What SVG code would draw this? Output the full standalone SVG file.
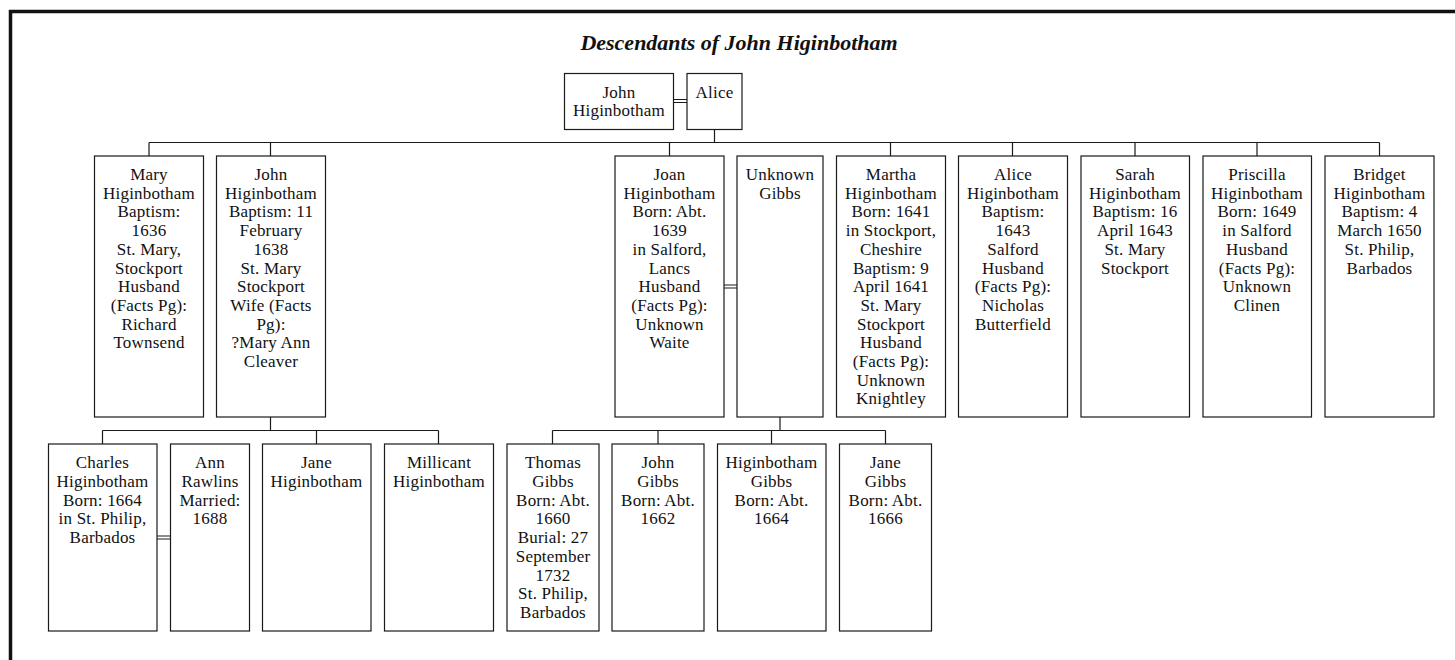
<svg xmlns="http://www.w3.org/2000/svg" width="1455" height="660" viewBox="0 0 1455 660">
  <style>
    .box { fill: #ffffff; stroke: #1a1a1a; stroke-width: 1.2; }
    .lbl { font-family: "Liberation Serif", "Times New Roman", serif; font-size: 17px; letter-spacing: 0.2px; fill: #111111; text-anchor: middle; }
    .title { font-family: "Liberation Serif", "Times New Roman", serif; font-size: 22px; font-weight: bold; font-style: italic; fill: #111111; text-anchor: middle; }
    .link { fill: none; stroke: #1a1a1a; stroke-width: 1.2; }
    .frame { fill: none; stroke: #111111; stroke-width: 3.5; }
  </style>
  <rect width="1455" height="660" fill="#ffffff"/>
  <!-- page frame (top and left edges) -->
  <path class="frame" d="M10.5,665 V11.5 H1460"/>
  <text class="title" x="739" y="50">Descendants of John Higinbotham</text>

  <!-- connectors -->
  <g id="connectors">
    <!-- marriages -->
    <path class="link" d="M673,99.5 H687 M673,102.5 H687"/>
    <path class="link" d="M724,285 H737 M724,288 H737"/>
    <path class="link" d="M157,536 H170 M157,539 H170"/>
    <!-- generation 1 to 2 -->
    <path class="link" d="M714.5,129 V142.5 M149,142.5 H1379.5 M149,142.5 V156 M270.5,142.5 V156 M669.5,142.5 V156 M890.5,142.5 V156 M1012.5,142.5 V156 M1135,142.5 V156 M1257,142.5 V156 M1379.5,142.5 V156"/>
    <!-- John's children -->
    <path class="link" d="M270.5,417 V430.5 M102.5,430.5 H438.5 M102.5,430.5 V444 M316.5,430.5 V444 M438.5,430.5 V444"/>
    <!-- Gibbs children -->
    <path class="link" d="M780,417 V430.5 M552.5,430.5 H885.5 M552.5,430.5 V444 M658,430.5 V444 M771.5,430.5 V444 M885.5,430.5 V444"/>
  </g>

  <!-- generation 1 -->
  <g id="john-higinbotham">
    <rect class="box" x="564.5" y="73.5" width="109" height="56"/>
    <text class="lbl" x="619" y="97.5"><tspan x="619">John</tspan><tspan x="619" dy="18.7">Higinbotham</tspan></text>
  </g>
  <g id="alice">
    <rect class="box" x="687" y="73.5" width="55" height="56"/>
    <text class="lbl" x="714.5" y="97.5">Alice</text>
  </g>

  <!-- generation 2 -->
  <g id="mary-higinbotham">
    <rect class="box" x="94.5" y="156" width="109" height="261"/>
    <text class="lbl" y="180"><tspan x="149">Mary</tspan><tspan x="149" dy="18.7">Higinbotham</tspan><tspan x="149" dy="18.7">Baptism:</tspan><tspan x="149" dy="18.7">1636</tspan><tspan x="149" dy="18.7">St. Mary,</tspan><tspan x="149" dy="18.7">Stockport</tspan><tspan x="149" dy="18.7">Husband</tspan><tspan x="149" dy="18.7">(Facts Pg):</tspan><tspan x="149" dy="18.7">Richard</tspan><tspan x="149" dy="18.7">Townsend</tspan></text>
  </g>
  <g id="john-higinbotham-jr">
    <rect class="box" x="216.5" y="156" width="109" height="261"/>
    <text class="lbl" y="180"><tspan x="271">John</tspan><tspan x="271" dy="18.7">Higinbotham</tspan><tspan x="271" dy="18.7">Baptism: 11</tspan><tspan x="271" dy="18.7">February</tspan><tspan x="271" dy="18.7">1638</tspan><tspan x="271" dy="18.7">St. Mary</tspan><tspan x="271" dy="18.7">Stockport</tspan><tspan x="271" dy="18.7">Wife (Facts</tspan><tspan x="271" dy="18.7">Pg):</tspan><tspan x="271" dy="18.7">?Mary Ann</tspan><tspan x="271" dy="18.7">Cleaver</tspan></text>
  </g>
  <g id="joan-higinbotham">
    <rect class="box" x="615" y="156" width="109" height="261"/>
    <text class="lbl" y="180"><tspan x="669.5">Joan</tspan><tspan x="669.5" dy="18.7">Higinbotham</tspan><tspan x="669.5" dy="18.7">Born: Abt.</tspan><tspan x="669.5" dy="18.7">1639</tspan><tspan x="669.5" dy="18.7">in Salford,</tspan><tspan x="669.5" dy="18.7">Lancs</tspan><tspan x="669.5" dy="18.7">Husband</tspan><tspan x="669.5" dy="18.7">(Facts Pg):</tspan><tspan x="669.5" dy="18.7">Unknown</tspan><tspan x="669.5" dy="18.7">Waite</tspan></text>
  </g>
  <g id="unknown-gibbs">
    <rect class="box" x="737" y="156" width="86" height="261"/>
    <text class="lbl" y="180"><tspan x="780">Unknown</tspan><tspan x="780" dy="18.7">Gibbs</tspan></text>
  </g>
  <g id="martha-higinbotham">
    <rect class="box" x="836.5" y="156" width="109" height="261"/>
    <text class="lbl" y="180"><tspan x="891">Martha</tspan><tspan x="891" dy="18.7">Higinbotham</tspan><tspan x="891" dy="18.7">Born: 1641</tspan><tspan x="891" dy="18.7">in Stockport,</tspan><tspan x="891" dy="18.7">Cheshire</tspan><tspan x="891" dy="18.7">Baptism: 9</tspan><tspan x="891" dy="18.7">April 1641</tspan><tspan x="891" dy="18.7">St. Mary</tspan><tspan x="891" dy="18.7">Stockport</tspan><tspan x="891" dy="18.7">Husband</tspan><tspan x="891" dy="18.7">(Facts Pg):</tspan><tspan x="891" dy="18.7">Unknown</tspan><tspan x="891" dy="18.7">Knightley</tspan></text>
  </g>
  <g id="alice-higinbotham">
    <rect class="box" x="958.5" y="156" width="109" height="261"/>
    <text class="lbl" y="180"><tspan x="1013">Alice</tspan><tspan x="1013" dy="18.7">Higinbotham</tspan><tspan x="1013" dy="18.7">Baptism:</tspan><tspan x="1013" dy="18.7">1643</tspan><tspan x="1013" dy="18.7">Salford</tspan><tspan x="1013" dy="18.7">Husband</tspan><tspan x="1013" dy="18.7">(Facts Pg):</tspan><tspan x="1013" dy="18.7">Nicholas</tspan><tspan x="1013" dy="18.7">Butterfield</tspan></text>
  </g>
  <g id="sarah-higinbotham">
    <rect class="box" x="1081" y="156" width="108.5" height="261"/>
    <text class="lbl" y="180"><tspan x="1135">Sarah</tspan><tspan x="1135" dy="18.7">Higinbotham</tspan><tspan x="1135" dy="18.7">Baptism: 16</tspan><tspan x="1135" dy="18.7">April 1643</tspan><tspan x="1135" dy="18.7">St. Mary</tspan><tspan x="1135" dy="18.7">Stockport</tspan></text>
  </g>
  <g id="priscilla-higinbotham">
    <rect class="box" x="1203" y="156" width="108.5" height="261"/>
    <text class="lbl" y="180"><tspan x="1257">Priscilla</tspan><tspan x="1257" dy="18.7">Higinbotham</tspan><tspan x="1257" dy="18.7">Born: 1649</tspan><tspan x="1257" dy="18.7">in Salford</tspan><tspan x="1257" dy="18.7">Husband</tspan><tspan x="1257" dy="18.7">(Facts Pg):</tspan><tspan x="1257" dy="18.7">Unknown</tspan><tspan x="1257" dy="18.7">Clinen</tspan></text>
  </g>
  <g id="bridget-higinbotham">
    <rect class="box" x="1325" y="156" width="109" height="261"/>
    <text class="lbl" y="180"><tspan x="1379.5">Bridget</tspan><tspan x="1379.5" dy="18.7">Higinbotham</tspan><tspan x="1379.5" dy="18.7">Baptism: 4</tspan><tspan x="1379.5" dy="18.7">March 1650</tspan><tspan x="1379.5" dy="18.7">St. Philip,</tspan><tspan x="1379.5" dy="18.7">Barbados</tspan></text>
  </g>

  <!-- generation 3 -->
  <g id="charles-higinbotham">
    <rect class="box" x="48.5" y="444" width="108.5" height="187"/>
    <text class="lbl" y="468.3"><tspan x="102.5">Charles</tspan><tspan x="102.5" dy="18.7">Higinbotham</tspan><tspan x="102.5" dy="18.7">Born: 1664</tspan><tspan x="102.5" dy="18.7">in St. Philip,</tspan><tspan x="102.5" dy="18.7">Barbados</tspan></text>
  </g>
  <g id="ann-rawlins">
    <rect class="box" x="170.5" y="444" width="79" height="187"/>
    <text class="lbl" y="468.3"><tspan x="210">Ann</tspan><tspan x="210" dy="18.7">Rawlins</tspan><tspan x="210" dy="18.7">Married:</tspan><tspan x="210" dy="18.7">1688</tspan></text>
  </g>
  <g id="jane-higinbotham">
    <rect class="box" x="262.5" y="444" width="108.5" height="187"/>
    <text class="lbl" y="468.3"><tspan x="316.5">Jane</tspan><tspan x="316.5" dy="18.7">Higinbotham</tspan></text>
  </g>
  <g id="millicant-higinbotham">
    <rect class="box" x="384.5" y="444" width="109" height="187"/>
    <text class="lbl" y="468.3"><tspan x="439">Millicant</tspan><tspan x="439" dy="18.7">Higinbotham</tspan></text>
  </g>
  <g id="thomas-gibbs">
    <rect class="box" x="507" y="444" width="92" height="187"/>
    <text class="lbl" y="468.3"><tspan x="553">Thomas</tspan><tspan x="553" dy="18.7">Gibbs</tspan><tspan x="553" dy="18.7">Born: Abt.</tspan><tspan x="553" dy="18.7">1660</tspan><tspan x="553" dy="18.7">Burial: 27</tspan><tspan x="553" dy="18.7">September</tspan><tspan x="553" dy="18.7">1732</tspan><tspan x="553" dy="18.7">St. Philip,</tspan><tspan x="553" dy="18.7">Barbados</tspan></text>
  </g>
  <g id="john-gibbs">
    <rect class="box" x="612" y="444" width="92" height="187"/>
    <text class="lbl" y="468.3"><tspan x="658">John</tspan><tspan x="658" dy="18.7">Gibbs</tspan><tspan x="658" dy="18.7">Born: Abt.</tspan><tspan x="658" dy="18.7">1662</tspan></text>
  </g>
  <g id="higinbotham-gibbs">
    <rect class="box" x="717.5" y="444" width="108.5" height="187"/>
    <text class="lbl" y="468.3"><tspan x="771.5">Higinbotham</tspan><tspan x="771.5" dy="18.7">Gibbs</tspan><tspan x="771.5" dy="18.7">Born: Abt.</tspan><tspan x="771.5" dy="18.7">1664</tspan></text>
  </g>
  <g id="jane-gibbs">
    <rect class="box" x="839.5" y="444" width="92" height="187"/>
    <text class="lbl" y="468.3"><tspan x="885.5">Jane</tspan><tspan x="885.5" dy="18.7">Gibbs</tspan><tspan x="885.5" dy="18.7">Born: Abt.</tspan><tspan x="885.5" dy="18.7">1666</tspan></text>
  </g>
</svg>
